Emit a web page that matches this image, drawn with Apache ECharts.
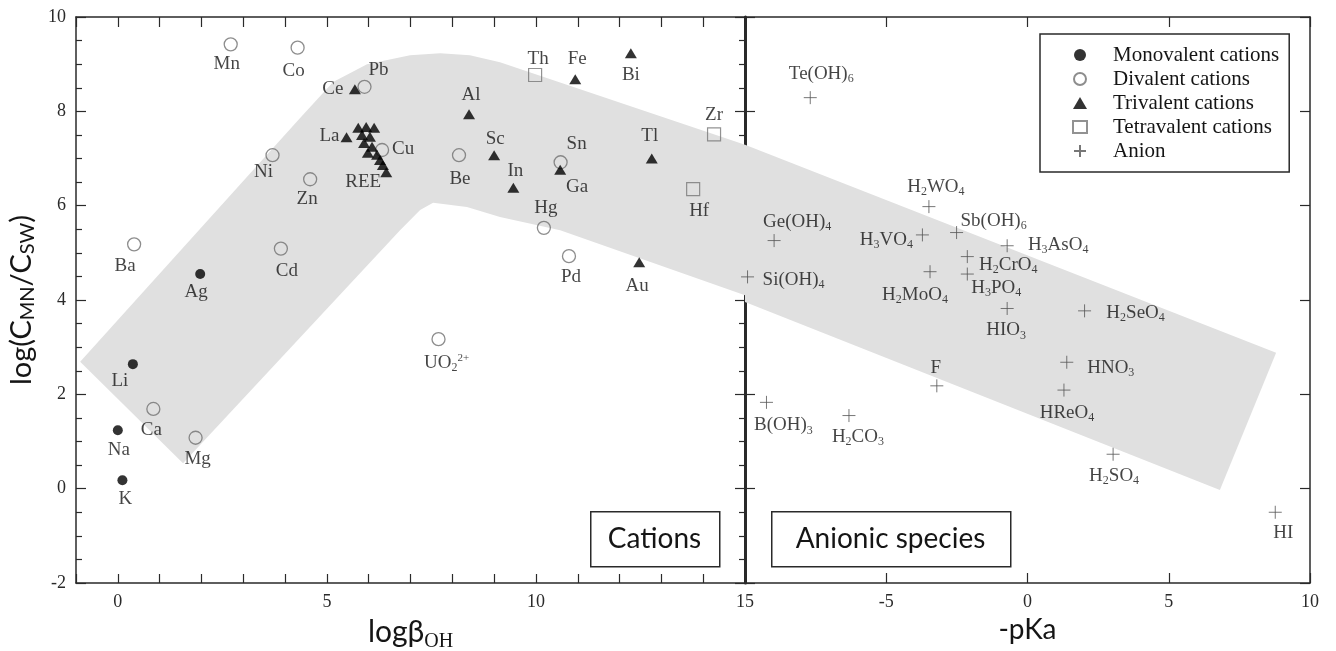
<!DOCTYPE html>
<html>
<head>
<meta charset="utf-8">
<script src="https://cdn.jsdelivr.net/npm/echarts/dist/echarts.min.js"></script>
<style>
  html, body { margin: 0; padding: 0; background: #fff; }
  #chart { width: 1336px; height: 651px; }
</style>
</head>
<body>
<div id="chart"></div>
<script>
// ---- Cations: log beta_OH (x) against log(C_MN/C_SW) (y) ----
const monoNames = ['Ag', 'Li', 'Na', 'K'];
const monoBeta  = [1.97, 0.36, 0.00, 0.11];
const monoRatio = [4.55, 2.64, 1.24, 0.18];

const diNames = ['Mn', 'Co', 'Pb', 'Ni', 'Zn', 'Ba', 'Cd', 'Ca', 'Mg', 'Be', 'Sn', 'Hg', 'Pd', 'UO_2^{2+}', 'Cu'];
const diBeta  = [2.70, 4.30, 5.90, 3.70, 4.60, 0.39, 3.90, 0.85, 1.86, 8.16, 10.59, 10.19, 10.79, 7.67, 6.32];
const diRatio = [9.42, 9.35, 8.52, 7.07, 6.56, 5.18, 5.09, 1.69, 1.08, 7.07, 6.92, 5.53, 4.93, 3.17, 7.18];

const triNames = ['Ce', 'La', 'Al', 'Fe', 'Bi', 'Sc', 'In', 'Ga', 'Tl', 'Au'];
const triBeta  = [5.67, 5.47, 8.40, 10.94, 12.27, 9.00, 9.46, 10.58, 12.77, 12.47];
const triRatio = [8.47, 7.45, 7.94, 8.68, 9.23, 7.07, 6.38, 6.76, 7.00, 4.80];

// rare earth elements (Pr ... Lu), labelled as a group
const reeNames = ['', '', '', '', '', '', '', '', '', '', '', 'REE'];
const reeBeta  = [5.75, 5.94, 6.13, 5.84, 6.03, 5.89, 6.08, 5.98, 6.20, 6.27, 6.34, 6.42];
const reeRatio = [7.65, 7.67, 7.65, 7.50, 7.46, 7.33, 7.25, 7.12, 7.08, 6.97, 6.86, 6.71];

const tetraNames = ['Th', 'Zr', 'Hf'];
const tetraBeta  = [9.98, 14.26, 13.76];
const tetraRatio = [8.77, 7.51, 6.35];

// ---- Anionic species: -pKa (x) against log(C_MN/C_SW) (y) ----
const anionNames = ['Te(OH)_6', 'H_2WO_4', 'Ge(OH)_4', 'H_3VO_4', 'Sb(OH)_6', 'H_3AsO_4', 'H_2CrO_4', 'H_3PO_4',
                    'H_2MoO_4', 'Si(OH)_4', 'HIO_3', 'H_2SeO_4', 'HNO_3', 'F', 'HReO_4', 'B(OH)_3', 'H_2CO_3',
                    'H_2SO_4', 'HI'];
const anionPKa   = [-7.69, -3.49, -8.97, -3.72, -2.51, -0.72, -2.13, -2.13, -3.45, -9.91, -0.72, 2.02, 1.39,
                    -3.21, 1.29, -9.24, -6.32, 3.03, 8.77];
const anionRatio = [8.29, 5.98, 5.26, 5.38, 5.43, 5.15, 4.92, 4.55, 4.60, 4.49, 3.82, 3.77, 2.68, 2.18, 2.09,
                    1.83, 1.55, 0.73, -0.50];

// shaded trend bands (outline vertices in data units)
const bandCations = [[-0.90, 2.69], [4.36, 7.86], [5.15, 8.62], [5.96, 9.00], [6.99, 9.19], [7.71, 9.23],
                     [8.42, 9.19], [9.14, 9.04], [15, 7.29], [15, 4.10], [10.58, 5.48], [9.14, 5.76],
                     [8.35, 5.97], [7.54, 6.06], [7.23, 5.91], [6.75, 5.48], [1.56, 0.54]];
const bandAnions  = [[-10, 7.29], [8.80, 2.88], [6.81, -0.03], [-10, 3.96]];

// axis tick values
const yTicks = { min: -2, max: 10, step: 2 };
const betaTicks = { min: -1, max: 15, step: 1, labelEvery: 5 };
const pkaTicks = { min: -10, max: 10, step: 5 };

// ---- presentation ----
const SERIF = '"Liberation Serif", "DejaVu Serif", serif';
const SANS = 'Lato, "Open Sans", sans-serif';
const INK = '#151515';
const AXIS = '#2a2a2a';

// label placement relative to each marker (px)
const labelOffset = {
  Mn: [-4, 20], Co: [-4, 23], Pb: [14, -17], Ce: [-22, 0], La: [-17, -1], Cu: [21, -1], REE: [-23, 10],
  Ni: [-9, 17], Zn: [-3, 20], Ba: [-9, 22], Cd: [6, 22], Ag: [-4, 18], Li: [-13, 17], Ca: [-2, 21],
  Na: [1, 20], Mg: [2, 21], K: [3, 19], Al: [2, -19], Th: [3, -16], Fe: [2, -20], Bi: [0, 22],
  Sc: [1, -16], Be: [1, 24], In: [2, -17], Sn: [16, -18], Ga: [17, 17], Hg: [2, -20], Pd: [2, 21],
  Tl: [-2, -22], Au: [-2, 24], Zr: [0, -19], Hf: [6, 22], 'UO_2^{2+}': [8, 24],
  'Te(OH)_6': [11, -24], 'H_2WO_4': [7, -20], 'Ge(OH)_4': [23, -19], 'H_3VO_4': [-36, 5],
  'Sb(OH)_6': [37, -12], 'H_3AsO_4': [51, -1], 'H_2CrO_4': [41, 8], 'H_3PO_4': [29, 14],
  'H_2MoO_4': [-15, 23], 'Si(OH)_4': [46, 3], 'HIO_3': [-1, 22], 'H_2SeO_4': [51, 2], 'HNO_3': [44, 6],
  F: [-1, -18], 'HReO_4': [3, 23], 'B(OH)_3': [17, 23], 'H_2CO_3': [9, 21], 'H_2SO_4': [1, 22], HI: [8, 21]
};

// turn "H_2SO_4" / "UO_2^{2+}" into rich-text with sub- and superscripts
function chemRich(s) {
  let out = '', buf = '';
  for (let i = 0; i < s.length; i++) {
    const c = s[i];
    if (c === '_' || c === '^') {
      if (buf) { out += '{n|' + buf + '}'; buf = ''; }
      let t;
      if (s[i + 1] === '{') { const j = s.indexOf('}', i); t = s.slice(i + 2, j); i = j; }
      else { t = s[i + 1]; i++; }
      out += '{' + (c === '_' ? 's' : 'p') + '|' + t + '}';
    } else {
      buf += c;
    }
  }
  if (buf) out += '{n|' + buf + '}';
  return out;
}

const RICH = {
  n: { fontFamily: SERIF, fontSize: 19, lineHeight: 22, color: INK },
  s: { fontFamily: SERIF, fontSize: 12, lineHeight: 10, verticalAlign: 'bottom', color: INK },
  p: { fontFamily: SERIF, fontSize: 11, lineHeight: 10, verticalAlign: 'top', color: INK }
};

function pointSeries(seriesName, names, xs, ys, axisIdx, look) {
  return Object.assign({
    type: 'scatter',
    name: seriesName,
    xAxisIndex: axisIdx,
    yAxisIndex: axisIdx,
    z: 4,
    silent: true,
    emphasis: { disabled: true },
    label: {
      show: true,
      position: 'inside',
      color: INK,
      textBorderWidth: 0,
      formatter: p => chemRich(p.name),
      rich: RICH
    },
    data: names.map((n, i) => ({
      name: n,
      value: [xs[i], ys[i]],
      label: { show: n !== '', offset: labelOffset[n] || [0, 0] }
    }))
  }, look);
}

function bandSeries(points, axisIdx) {
  return {
    type: 'custom',
    xAxisIndex: axisIdx,
    yAxisIndex: axisIdx,
    z: 1,
    silent: true,
    clip: true,
    data: points,
    renderItem: (params, api) => {
      if (params.dataIndex !== 0) return null;
      return {
        type: 'polygon',
        shape: { points: points.map(p => api.coord(p)) },
        style: { fill: '#e0e0e0' }
      };
    }
  };
}

const tickLabel = { fontFamily: SERIF, fontSize: 18, color: AXIS, margin: 10 };
const line = w => ({ show: true, onZero: false, lineStyle: { color: AXIS, width: w } });
const ticks = len => ({ show: true, inside: true, length: len, lineStyle: { color: AXIS, width: 1.2 } });

const MONO = 'Monovalent cations', DI = 'Divalent cations', TRI = 'Trivalent cations',
      TETRA = 'Tetravalent cations', ANION = 'Anion';

const lookMono  = { symbol: 'circle', symbolSize: 10, itemStyle: { color: '#000' } };
const lookDi    = { symbol: 'circle', symbolSize: 13, itemStyle: { color: 'rgba(0,0,0,0)', borderColor: '#707070', borderWidth: 1.3 } };
const lookTri   = { symbol: 'triangle', symbolSize: [12, 10], itemStyle: { color: '#000' } };
const lookTetra = { symbol: 'rect', symbolSize: 13, itemStyle: { color: 'rgba(0,0,0,0)', borderColor: '#777', borderWidth: 1.2 } };
const lookAnion = { symbol: 'path://M6,0V12M0,6H12', symbolSize: 13, itemStyle: { color: 'rgba(0,0,0,0)', borderColor: '#555', borderWidth: 1 } };

const option = {
  backgroundColor: '#fff',
  animation: false,
  grid: [
    { left: 76, top: 17, width: 669, height: 566, outerBoundsMode: 'none', containLabel: false },
    { left: 745, top: 17, width: 565, height: 566, outerBoundsMode: 'none', containLabel: false }
  ],
  xAxis: [
    {
      gridIndex: 0, type: 'value', position: 'bottom',
      min: betaTicks.min, max: betaTicks.max, interval: betaTicks.step,
      axisLine: line(1.5), axisTick: ticks(9), splitLine: { show: false },
      axisLabel: Object.assign({}, tickLabel, {
        showMinLabel: true, showMaxLabel: true,
        formatter: v => (v % betaTicks.labelEvery === 0 ? String(v) : '')
      }),
      name: '{a|logβ}{b|OH}', nameLocation: 'middle', nameGap: 29,
      nameTextStyle: {
        fontSize: 30,
        rich: {
          a: { fontFamily: SANS, fontSize: 30, lineHeight: 32, color: INK },
          b: { fontFamily: SERIF, fontSize: 20, lineHeight: 20, verticalAlign: 'top', padding: [16, 0, 0, 0], color: INK }
        }
      }
    },
    {
      gridIndex: 0, type: 'value', position: 'top',
      min: betaTicks.min, max: betaTicks.max, interval: betaTicks.step,
      axisLine: line(1.5), axisTick: ticks(10), axisLabel: { show: false }, splitLine: { show: false }
    },
    {
      gridIndex: 1, type: 'value', position: 'bottom',
      min: pkaTicks.min, max: pkaTicks.max, interval: pkaTicks.step,
      axisLine: line(1.5), axisTick: ticks(10), splitLine: { show: false },
      axisLabel: Object.assign({}, tickLabel, {
        showMinLabel: true, showMaxLabel: true,
        formatter: v => (v === pkaTicks.min ? '' : String(v))
      }),
      name: '-pKa', nameLocation: 'middle', nameGap: 33,
      nameTextStyle: { fontFamily: SANS, fontSize: 28, color: INK }
    },
    {
      gridIndex: 1, type: 'value', position: 'top',
      min: pkaTicks.min, max: pkaTicks.max, interval: pkaTicks.step,
      axisLine: line(1.5), axisTick: ticks(10), axisLabel: { show: false }, splitLine: { show: false }
    }
  ],
  yAxis: [
    {
      gridIndex: 0, type: 'value', position: 'left',
      min: yTicks.min, max: yTicks.max, interval: yTicks.step,
      axisLine: line(1.5), axisTick: ticks(10),
      minorTick: { show: true, splitNumber: 4, length: 6, lineStyle: { color: AXIS, width: 1.2 } },
      splitLine: { show: false }, minorSplitLine: { show: false },
      axisLabel: Object.assign({}, tickLabel, { showMinLabel: true, showMaxLabel: true }),
      name: '{a|log(C}{b|MN}{a|/C}{b|SW}{a|)}', nameLocation: 'middle', nameRotate: 90, nameGap: 38,
      nameTextStyle: {
        fontSize: 29,
        rich: {
          a: { fontFamily: SANS, fontSize: 29, lineHeight: 31, color: INK },
          b: { fontFamily: SANS, fontSize: 20, lineHeight: 13, verticalAlign: 'bottom', color: INK }
        }
      }
    },
    {
      gridIndex: 0, type: 'value', position: 'right',
      min: yTicks.min, max: yTicks.max, interval: yTicks.step,
      axisLine: line(3), axisTick: ticks(10),
      minorTick: { show: true, splitNumber: 4, length: 6, lineStyle: { color: AXIS, width: 1.2 } },
      axisLabel: { show: false }, splitLine: { show: false }, minorSplitLine: { show: false }
    },
    {
      gridIndex: 1, type: 'value', position: 'left',
      min: yTicks.min, max: yTicks.max, interval: yTicks.step,
      axisLine: line(1.5), axisTick: ticks(10), axisLabel: { show: false }, splitLine: { show: false }
    },
    {
      gridIndex: 1, type: 'value', position: 'right',
      min: yTicks.min, max: yTicks.max, interval: yTicks.step,
      axisLine: line(1.5), axisTick: ticks(10), axisLabel: { show: false }, splitLine: { show: false }
    }
  ],
  legend: {
    orient: 'vertical',
    left: 1040, top: 34,
    padding: [9, 10, 9, 32],
    itemWidth: 14, itemHeight: 12, itemGap: 0,
    borderColor: AXIS, borderWidth: 1.5, backgroundColor: '#fff',
    selectedMode: false,
    textStyle: { fontFamily: SERIF, fontSize: 21, lineHeight: 24, color: INK, padding: [0, 0, 0, 21] },
    data: [MONO, DI, TRI, TETRA, ANION]
  },
  graphic: [
    { type: 'rect', left: 590, top: 511, z: 10, shape: { width: 129, height: 55 }, style: { fill: '#fff', stroke: AXIS, lineWidth: 1.5 } },
    { type: 'text', x: 654.5, y: 539, z: 11, style: { text: 'Cations', fontFamily: SANS, fontSize: 28, fill: INK, align: 'center', verticalAlign: 'middle' } },
    { type: 'rect', left: 771, top: 511, z: 10, shape: { width: 239, height: 55 }, style: { fill: '#fff', stroke: AXIS, lineWidth: 1.5 } },
    { type: 'text', x: 890.5, y: 539, z: 11, style: { text: 'Anionic species', fontFamily: SANS, fontSize: 28, fill: INK, align: 'center', verticalAlign: 'middle' } }
  ],
  series: [
    bandSeries(bandCations, 0),
    bandSeries(bandAnions, 2),
    pointSeries(MONO, monoNames, monoBeta, monoRatio, 0, lookMono),
    pointSeries(DI, diNames, diBeta, diRatio, 0, lookDi),
    pointSeries(TRI, triNames.concat(reeNames), triBeta.concat(reeBeta), triRatio.concat(reeRatio), 0, lookTri),
    pointSeries(TETRA, tetraNames, tetraBeta, tetraRatio, 0, lookTetra),
    pointSeries(ANION, anionNames, anionPKa, anionRatio, 2, lookAnion)
  ]
};

const chart = echarts.init(document.getElementById('chart'), null, { renderer: 'canvas' });
chart.setOption(option);
</script>
</body>
</html>
